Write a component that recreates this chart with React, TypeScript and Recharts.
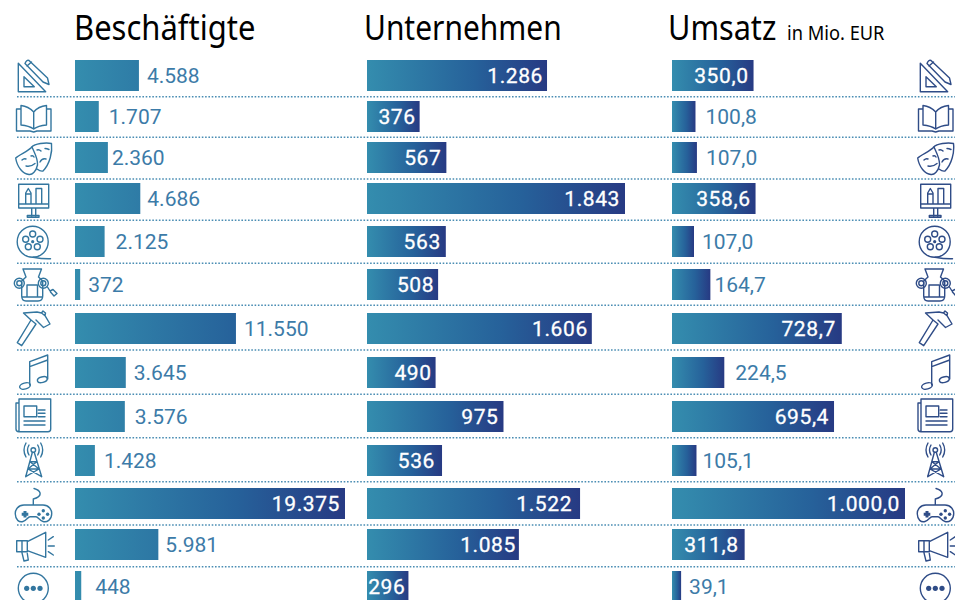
import { BarChart, Bar, XAxis, YAxis, LabelList } from 'recharts'

const sectors = [
  'Architektur', 'Buchmarkt', 'Darstellende Künste', 'Kunstmarkt', 'Film', 'Kunsthandwerk', 'Handwerk',
  'Musik', 'Presse', 'Rundfunk', 'Software/Games', 'Werbung', 'Sonstige',
]

const employees = [4588, 1707, 2360, 4686, 2125, 372, 11550, 3645, 3576, 1428, 19375, 5981, 448]
const employeeLabels = ['4.588', '1.707', '2.360', '4.686', '2.125', '372', '11.550', '3.645', '3.576', '1.428', '19.375', '5.981', '448']

const companies = [1286, 376, 567, 1843, 563, 508, 1606, 490, 975, 536, 1522, 1085, 296]
const companyLabels = ['1.286', '376', '567', '1.843', '563', '508', '1.606', '490', '975', '536', '1.522', '1.085', '296']

// film bar is drawn shorter than its printed 107,0 in the original
const revenue = [350, 100.8, 107, 358.6, 94.4, 164.7, 728.7, 224.5, 695.4, 105.1, 1000, 311.8, 39.1]
const revenueLabels = ['350,0', '100,8', '107,0', '358,6', '107,0', '164,7', '728,7', '224,5', '695,4', '105,1', '1.000,0', '311,8', '39,1']

// layout only: the rows of the original are not evenly spaced
const rowTops = [60, 101, 142, 183, 226, 269, 313, 357, 401, 445, 488, 529, 571]
const separators = [96.7, 137.3, 179, 220.3, 263.3, 305.3, 350, 394.3, 437.7, 481.7, 525, 566.7]
const BAR_HEIGHT = 31

// label offset from the bar end: positive = outside, negative = inside the bar
const employeeGaps = [8, 10, 4, 7, 11, 8, 8, 8, 10, 9, -5, 7, 14]
const companyGaps = [-4, -4, -5, -5, -5, -4, -4, -4, -5, -7, -8, -3, -3]
const revenueGaps = [-5, 10, 9, -5, 8, 4, -6, 11, -5, 6, -5, -6, 8]

const LEFT_ICON = '#33769f'
const RIGHT_ICON = '#2f4c87'
const LABEL_BLUE = '#3c7ba8'

function Gradient({ id, wide }: { id: string; wide: boolean }) {
  const props = wide
    ? { gradientUnits: 'userSpaceOnUse' as const, x1: 0, x2: 270, y1: 0, y2: 0 }
    : { x1: 0, x2: 1, y1: 0, y2: 0 }
  return (
    <defs>
      <linearGradient id={id} {...props}>
        <stop offset="0%" stopColor="#348dae" />
        <stop offset="60%" stopColor="#26619a" />
        <stop offset="100%" stopColor="#273a83" />
      </linearGradient>
    </defs>
  )
}

function RowBar({ id, left, width, plotWidth, max, value, label, gap, wideGradient, top }: any) {
  const renderLabel = (p: any) => {
    const end = Number(p.x) + Number(p.width)
    const inside = gap < 0
    return (
      <text
        x={end + gap}
        y={Number(p.y) + BAR_HEIGHT / 2 + 7.5}
        textAnchor={inside ? 'end' : 'start'}
        fontFamily="Roboto"
        fontSize={21}
        fontWeight={400}
        letterSpacing={inside ? 0.6 : 0}
        fill={inside ? '#ffffff' : LABEL_BLUE}
        stroke={inside ? '#ffffff' : 'none'}
        strokeWidth={inside ? 0.3 : 0}
      >
        {p.value}
      </text>
    )
  }
  return (
    <div style={{ position: 'absolute', left, top }}>
      <BarChart
        width={width}
        height={BAR_HEIGHT}
        layout="vertical"
        data={[{ name: id, value, label }]}
        margin={{ top: 0, right: width - plotWidth, bottom: 0, left: 0 }}
        barCategoryGap={0}
      >
        <Gradient id={id} wide={wideGradient} />
        <XAxis type="number" hide domain={[0, max]} />
        <YAxis type="category" hide dataKey="name" />
        <Bar dataKey="value" fill={`url(#${id})`} isAnimationActive={false}>
          <LabelList dataKey="label" content={renderLabel} />
        </Bar>
      </BarChart>
    </div>
  )
}

const Dot = ({ x, y, r }: { x: number; y: number; r: number }) => (
  <circle cx={x} cy={y} r={r} fill="currentColor" stroke="none" />
)

// outline icons, drawn in page coordinates of the left column
function Icons() {
  return (
    <g fill="none" strokeWidth={1.4} strokeLinejoin="round" strokeLinecap="round">
      {/* set square and pencil */}
      <path d="M18.3 63.3V91.7H45.7ZM24 76.7V86.7H34.3Z M25 63.5L43 82L49 84.5L47.5 78L29 60.5Q26.5 59.5 25 63.5Z M27 66L31.5 62" />
      {/* book */}
      <path d="M33.7 112C30 108 26 106 21 105.5V125C26 125.5 30 126.5 33.7 129V112C37 108 41 106 46.5 105.5V125C41 125.5 37 126.5 33.7 129M21 109H16.5V131H30L33.7 132L37 131H51V109H46.5" />
      {/* masks */}
      <path d="M15.7 158C20 154 27 152 32 147C34 152 38 158 37.5 165C36 172 32 175 29 174.5C23 174 17 167 15.7 158Z M31.5 147C35 144 45 142 51.5 143.5C52.5 152 50 164 43 171C41 171.5 39 170.5 37 169 M26 166Q31 167 35 163.5 M22 160Q24 158 26 159 M31 156Q33 155 34 157 M37 150Q39 149 41 151 M45 148.5Q47 148.5 49 149.5 M40 162Q42 158 46 159" />
      {/* monitor */}
      <path d="M18.7 184.3H48.7V208H18.7ZM18.7 204H48.7M31.7 208V216M35.7 208V216M27.3 217.3H39V215.5H27.3Z M25.7 204V193L28.3 188.5L31 193V204M25.7 194H31M36 204V188.5H41.7V204" />
      {/* film reel */}
      <circle cx={32.7} cy={241.7} r={15.5} />
      <path d="M33 257.2Q43 259 50.5 258.7" />
      <circle cx={32.7} cy={234} r={3} />
      <circle cx={25.7} cy={239.3} r={3} />
      <circle cx={40} cy={239.3} r={3} />
      <circle cx={28.3} cy={246.7} r={3} />
      <circle cx={37.3} cy={246.7} r={3} />
      <Dot x={32.7} y={241.7} r={1.6} />
      {/* urn */}
      <path d="M23 269H41.5L38.5 277L42.7 281V296Q42.7 301 38 301H26Q21.7 301 21.7 296V281L26 277ZM27 285H37.5V297H27ZM21.7 297H42.7" />
      <circle cx={19.3} cy={283.3} r={5} />
      <circle cx={19.3} cy={283.3} r={2.5} />
      <circle cx={43.3} cy={283.3} r={5} />
      <circle cx={43.3} cy={283.3} r={2.5} />
      <path d="M47.5 287L50 291L53 289.5L57 293.5L54 296L50.5 292" />
      {/* hammer */}
      <path d="M17.3 342.7L31 320L36 324L21.7 345.7ZM31 320L23.5 313L37 312L41.5 313L45 315.7L50 324L43.5 327.5L36 320M41.5 313L43 311L45.5 313L45 315.7" />
      {/* notes */}
      <path d="M29.7 385V361.7L47.7 355V379M29.7 366.7L47.7 360" />
      <ellipse cx={25} cy={386} rx={5.5} ry={3} transform="rotate(-15 25 386)" />
      <ellipse cx={42.3} cy={379.7} rx={5} ry={2.8} transform="rotate(-15 42.3 379.7)" />
      {/* newspaper */}
      <path d="M19 399H50.7V429Q50.7 431.7 48 431.7H19ZM19 403H16V429Q16 431.7 19 431.7M24 406H36.7V416.7H24ZM38.3 410H45M38.3 413.3H45M38.3 416.7H45M24 421H45M24 425H45" />
      {/* tower */}
      <circle cx={33.3} cy={450} r={2.3} />
      <path d="M25.7 476.7L32.3 452.5M41.7 476.7L34.3 452.5M30 461.7H36.7M28 469H39M28 469L36.7 461.7M39 469L30 461.7M25.7 476.7L39 469M41.7 476.7L28 469M29 445Q26 450 29 455M26 443Q22 450 26 457M37.7 445Q40.7 450 37.7 455M40.7 443Q44.7 450 40.7 457" />
      {/* gamepad */}
      <path d="M24 505H43C49 505 52 510 51.7 514C51.5 520 47 522.5 43 521.5C40 521 38 516.7 36 516.7H30C28 516.7 26 521 23 521.5C19 522.5 15.5 520 15.3 514C15 510 18 505 24 505ZM33.3 505V499Q41 497 40 493Q39.5 490 34 488.5" />
      <path d="M25 511V517.6M21.7 514.3H28.3" strokeWidth={3} strokeLinecap="butt" />
      <Dot x={43.3} y={510.7} r={1.7} />
      <Dot x={47.6} y={514.3} r={1.7} />
      <Dot x={39} y={514.3} r={1.7} />
      <Dot x={43.3} y={518} r={1.7} />
      {/* megaphone */}
      <path d="M27.3 541.7L45.7 532.3V557.3L27.3 550.7ZM27.3 540.7H16.7V551.7H27.3M21.7 551.7L24 561L28.3 560L27.3 553.5M22 540.7V551.7M48.3 540L53.3 536.7M48.3 546H54.3M48.3 551.7L53.3 555" />
      {/* other */}
      <circle cx={33.3} cy={588.3} r={15} />
      <Dot x={26.7} y={588.3} r={2.6} />
      <Dot x={33.3} y={588.3} r={2.6} />
      <Dot x={40} y={588.3} r={2.6} />
    </g>
  )
}

const titleStyle: any = {
  position: 'absolute', top: 3, fontFamily: 'Noto Sans', fontSize: 35, color: '#000', whiteSpace: 'nowrap',
  lineHeight: '48px', transformOrigin: 'left center',
}

export default function App() {
  return (
    <div style={{ position: 'absolute', left: 0, top: 0, width: 955, height: 600, overflow: 'hidden', background: '#fff' }}>
      <div style={{ ...titleStyle, left: 74, transform: 'scaleX(0.885)' }}>Beschäftigte</div>
      <div style={{ ...titleStyle, left: 364, transform: 'scaleX(0.855)' }}>Unternehmen</div>
      <div style={{ ...titleStyle, left: 668, transform: 'scaleX(0.875)' }}>Umsatz</div>
      <div style={{ ...titleStyle, left: 787, fontSize: 19, top: 9, transform: 'scaleX(0.96)' }}>in Mio. EUR</div>

      <svg width={955} height={600} style={{ position: 'absolute', left: 0, top: 0 }}>
        {separators.map((y) => (
          <line key={y} x1={17} x2={955} y1={y} y2={y} stroke="#4a8db3" strokeWidth={1.5} strokeDasharray="1.6 1.7" />
        ))}
        <g stroke={LEFT_ICON} color={LEFT_ICON}><Icons /></g>
        <g stroke={RIGHT_ICON} color={RIGHT_ICON} transform="translate(902 0)"><Icons /></g>
      </svg>

      {sectors.map((sector, i) => (
        <div key={sector}>
          <RowBar id={`emp-${i}`} left={75} top={rowTops[i]} width={285} plotWidth={270} max={19375}
            value={employees[i]} label={employeeLabels[i]} gap={employeeGaps[i]} wideGradient />
          <RowBar id={`com-${i}`} left={367} top={rowTops[i]} width={270} plotWidth={258} max={1843}
            value={companies[i]} label={companyLabels[i]} gap={companyGaps[i]} />
          <RowBar id={`rev-${i}`} left={672} top={rowTops[i]} width={240} plotWidth={233} max={1000}
            value={revenue[i]} label={revenueLabels[i]} gap={revenueGaps[i]} />
        </div>
      ))}
    </div>
  )
}
